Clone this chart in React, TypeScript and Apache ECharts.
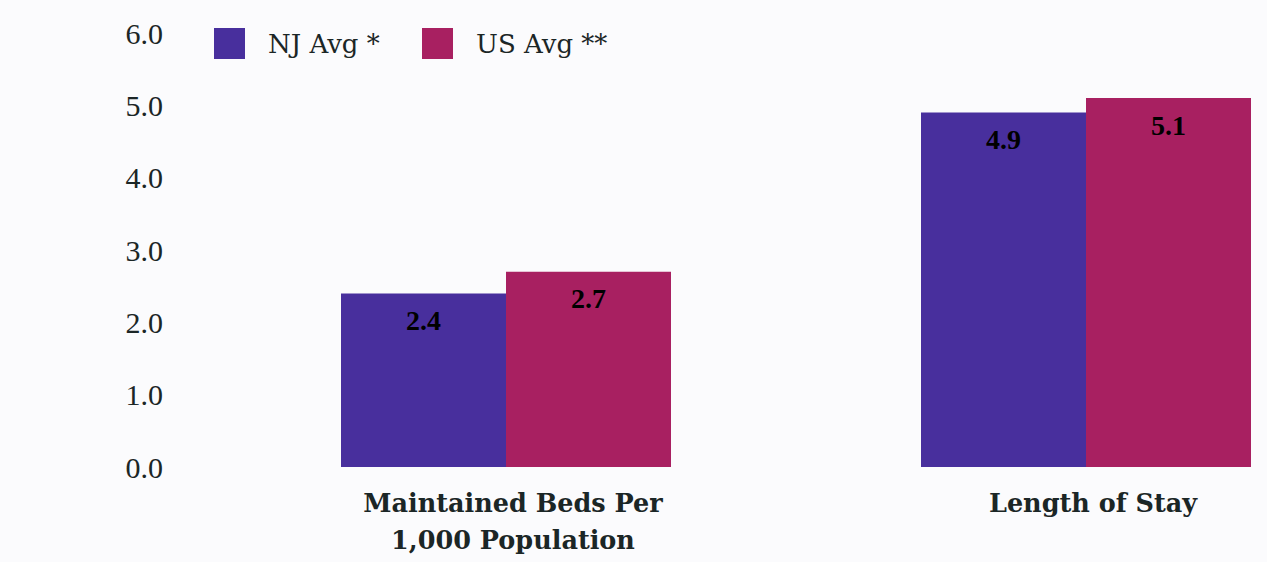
import React, { useEffect, useRef } from "react";
import * as echarts from "echarts";

const categories = ["Maintained Beds Per\n1,000 Population", "Length of Stay"];
const njValues = [2.4, 4.9];
const usValues = [2.7, 5.1];
const seriesNames = ["NJ Avg *", "US Avg **"];
const yTicks = [0, 1, 2, 3, 4, 5, 6];

const NJ_COLOR = "#482f9d";
const US_COLOR = "#a82061";
const TEXT = "#1b2626";
const WORD_FONT = "DejaVu Serif";
const NUM_FONT = "Liberation Serif";

export default function App() {
  const ref = useRef<HTMLDivElement>(null);
  useEffect(() => {
    if (!ref.current) return;
    const chart = echarts.init(ref.current, null, { renderer: "svg" });
    const valueLabel = {
      show: true,
      position: "insideTop",
      distance: 13,
      fontFamily: NUM_FONT,
      fontWeight: "bold",
      fontSize: 28,
      color: "#000",
      formatter: (p: any) => Number(p.value).toFixed(1),
    };
    const legendText = {
      fontFamily: WORD_FONT,
      fontSize: 26,
      color: TEXT,
      padding: [0, 0, 0, 18],
    };
    chart.setOption({
      animation: false,
      backgroundColor: "#fbfbfd",
      legend: [
        {
          data: [seriesNames[0]],
          left: 209,
          top: 23,
          itemWidth: 31,
          itemHeight: 31,
          icon: "rect",
          textStyle: legendText,
        },
        {
          data: [seriesNames[1]],
          left: 417,
          top: 23,
          itemWidth: 31,
          itemHeight: 31,
          icon: "rect",
          textStyle: legendText,
        },
      ],
      grid: { left: 506, right: 181, top: 33, bottom: 95, containLabel: false },
      xAxis: {
        type: "category",
        data: categories,
        boundaryGap: false,
        axisLine: { show: false },
        axisTick: { show: false },
        splitLine: { show: false },
        axisLabel: {
          margin: 17,
          fontFamily: WORD_FONT,
          fontWeight: "bold",
          fontSize: 25.5,
          lineHeight: 37,
          color: TEXT,
          padding: [0, 0, 0, 14],
        },
      },
      yAxis: {
        type: "value",
        min: yTicks[0],
        max: yTicks[yTicks.length - 1],
        interval: 1,
        axisLine: { show: false },
        axisTick: { show: false },
        splitLine: { show: false },
        axisLabel: {
          margin: 343,
          fontFamily: NUM_FONT,
          fontSize: 30,
          color: TEXT,
          padding: [4, 0, 0, 0],
          formatter: (v: number) => v.toFixed(1),
        },
      },
      series: [
        {
          name: seriesNames[0],
          type: "bar",
          data: njValues,
          barWidth: 165,
          barGap: "0%",
          clip: false,
          itemStyle: { color: NJ_COLOR },
          label: valueLabel,
        },
        {
          name: seriesNames[1],
          type: "bar",
          data: usValues,
          barWidth: 165,
          barGap: "0%",
          clip: false,
          itemStyle: { color: US_COLOR },
          label: valueLabel,
        },
      ],
    });
    return () => chart.dispose();
  }, []);
  return (
    <div
      ref={ref}
      style={{ position: "fixed", left: 0, top: 0, width: 1267, height: 562 }}
    />
  );
}
